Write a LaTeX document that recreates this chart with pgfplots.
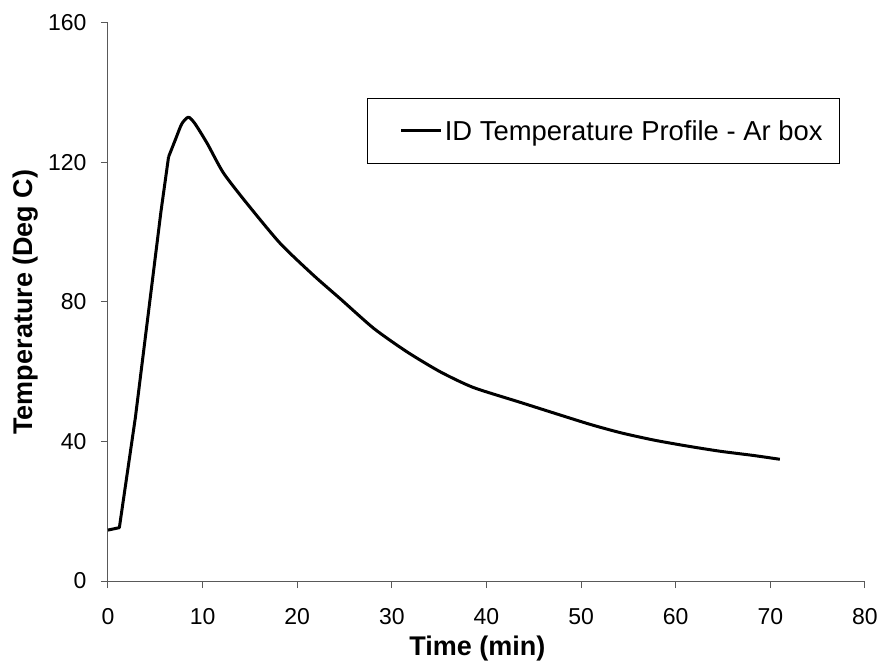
\documentclass[border=0pt]{standalone}
\usepackage{fontspec}
\setmainfont{Liberation Sans}
\usepackage{pgfplots}
\pgfplotsset{compat=1.18}

\begin{document}
\begin{tikzpicture}
\path[use as bounding box] (-108pt,-89pt) rectangle (771pt,581pt);
\begin{axis}[
    scale only axis,
    width=757pt, height=558pt,
    xmin=0, xmax=80, ymin=0, ymax=160,
    xtick={0,10,...,80},
    ytick={0,40,80,120,160},
    axis x line=bottom, axis y line=left,
    axis line style={-, black!65, line width=1pt},
    tick style={black!65, line width=1pt},
    tick align=outside,
    major tick length=7pt,
    /pgf/number format/assume math mode=true,
    tick label style={font=\fontsize{23}{27}\selectfont},
    xticklabel style={yshift=-17pt},
    yticklabel style={xshift=-11pt},
    xlabel={Time (min)},
    ylabel={Temperature (Deg C)},
    label style={font=\fontsize{27}{32}\selectfont\bfseries},
    xlabel style={at={(axis description cs:0.488,-0.1344)}, anchor=base},
    ylabel style={at={(axis description cs:-0.0991,0.5)}, anchor=base},
    legend style={at={(axis description cs:0.967,0.866)}, anchor=north east,
        draw=black, line width=1pt, inner xsep=15pt, inner ysep=20pt,
        font=\fontsize{27.4}{31}\selectfont},
    legend image code/.code={
        \path[draw=none, fill=none] (-19pt,0pt) -- (0pt,0pt);
        \draw[line width=3pt] (0pt,0pt) -- (40pt,0pt);},
    clip=false,
]
\addplot[black, line width=3pt, line join=round] coordinates {
    (0,14.6) (1.2,15.3) (2.9,47) (5.6,106) (6.4,121.6)
};
\addlegendentry{ID Temperature Profile - Ar box}
\addplot[black, line width=3pt, line join=round, smooth, tension=0.4, forget plot] coordinates {
    (6.4,121.6) (7.1,126.4) (7.8,131.1) (8.5,133.0) (9.2,131.1)
    (10.5,125.4) (12.2,117.0) (14.7,108.2)
    (18.2,96.8) (21.7,87.7) (24.6,80.8) (28.1,72.4)
    (31.6,65.7) (35.1,60.0) (38.6,55.5) (43.6,51.2)
    (50.6,45.2) (54.2,42.5) (57.7,40.4) (61.2,38.7) (64.7,37.2) (68.2,36.0)
    (71.0,34.9)
};
\end{axis}
\end{tikzpicture}
\end{document}
